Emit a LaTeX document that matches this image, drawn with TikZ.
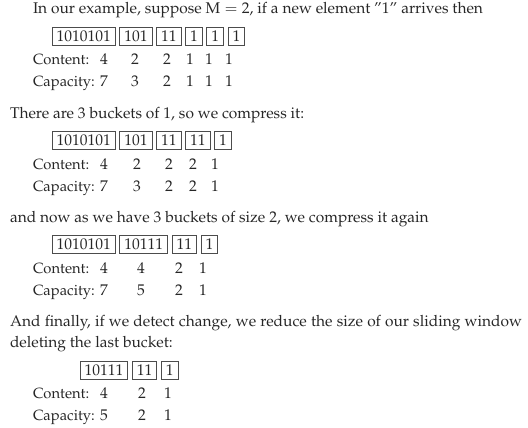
\documentclass[tikz,border=0pt]{standalone}
\usepackage[T1]{fontenc}
\usepackage{mathpazo}
\usetikzlibrary{positioning}
\begin{document}
\begin{tikzpicture}[x=1pt,y=-1pt,
  every node/.style={inner sep=0pt, outer sep=0pt, font=\fontsize{15.5}{18}\selectfont, text=black!85},
  txt/.style={anchor=base west},
  lbl/.style={anchor=base west, font=\fontsize{14.8}{18}\selectfont},
  num/.style={anchor=base},
  bucket/.style={draw=black!70, line width=0.7pt, inner xsep=4.5pt, minimum height=18pt, text height=10.5pt, text depth=0pt},
  nxt/.style={right=4.5pt of #1},
]
\useasboundingbox (0,0) rectangle (528,428);

% ---------- block 1
\node[txt] (t1) at (33,14) {In our example, suppose M${}={}$2, if a new element ''1'' arrives then};
\node[bucket, anchor=west] (a1) at (52,36.5) {1010101};
\node[bucket, nxt=a1] (a2) {101};
\node[bucket, nxt=a2] (a3) {11};
\node[bucket, nxt=a3] (a4) {1};
\node[bucket, nxt=a4] (a5) {1};
\node[bucket, nxt=a5] (a6) {1};
\node[lbl] (ca) at (33,65) {Content:};
\node[num] (ca1) at (104,65) {4};
\node[num] (ca2) at (135,65) {2};
\node[num] (ca3) at (167,65) {2};
\node[num] (ca4) at (190,65) {1};
\node[num] (ca5) at (209,65) {1};
\node[num] (ca6) at (229,65) {1};
\node[lbl] (pa) at (33,87) {Capacity:};
\node[num] (pa1) at (104,87) {7};
\node[num] (pa2) at (135,87) {3};
\node[num] (pa3) at (167,87) {2};
\node[num] (pa4) at (190,87) {1};
\node[num] (pa5) at (209,87) {1};
\node[num] (pa6) at (229,87) {1};

% ---------- block 2
\node[txt] (t2) at (10,118) {There are 3 buckets of 1, so we compress it:};
\node[bucket, anchor=west] (b1) at (52,140.5) {1010101};
\node[bucket, nxt=b1] (b2) {101};
\node[bucket, nxt=b2] (b3) {11};
\node[bucket, nxt=b3] (b4) {11};
\node[bucket, nxt=b4] (b5) {1};
\node[lbl] (cb) at (33,169) {Content:};
\node[num] (cb1) at (104,169) {4};
\node[num] (cb2) at (137,169) {2};
\node[num] (cb3) at (169,169) {2};
\node[num] (cb4) at (193,169) {2};
\node[num] (cb5) at (215,169) {1};
\node[lbl] (pb) at (33,191) {Capacity:};
\node[num] (pb1) at (104,191) {7};
\node[num] (pb2) at (137,191) {3};
\node[num] (pb3) at (169,191) {2};
\node[num] (pb4) at (193,191) {2};
\node[num] (pb5) at (215,191) {1};

% ---------- block 3
\node[txt] (t3) at (10,222) {and now as we have 3 buckets of size 2, we compress it again};
\node[bucket, anchor=west] (e1) at (52,244.5) {1010101};
\node[bucket, nxt=e1] (e2) {10111};
\node[bucket, nxt=e2] (e3) {11};
\node[bucket, nxt=e3] (e4) {1};
\node[lbl] (ce) at (33,273) {Content:};
\node[num] (ce1) at (104,273) {4};
\node[num] (ce2) at (141,273) {4};
\node[num] (ce3) at (179,273) {2};
\node[num] (ce4) at (203,273) {1};
\node[lbl] (pe) at (33,295) {Capacity:};
\node[num] (pe1) at (104,295) {7};
\node[num] (pe2) at (141,295) {5};
\node[num] (pe3) at (179,295) {2};
\node[num] (pe4) at (203,295) {1};

% ---------- block 4
\node[txt] (t4) at (10,326) {\makebox[512pt][s]{And finally, if we detect change, we reduce the size of our sliding window}};
\node[txt] (t5) at (10,347) {deleting the last bucket:};
\node[bucket, anchor=west] (f1) at (80,370) {10111};
\node[bucket, nxt=f1] (f2) {11};
\node[bucket, nxt=f2] (f3) {1};
\node[lbl] (cf) at (33,398) {Content:};
\node[num] (cf1) at (104,398) {4};
\node[num] (cf2) at (142,398) {2};
\node[num] (cf3) at (168,398) {1};
\node[lbl] (pf) at (33,420) {Capacity:};
\node[num] (pf1) at (104,420) {5};
\node[num] (pf2) at (142,420) {2};
\node[num] (pf3) at (168,420) {1};
\end{tikzpicture}
\end{document}
